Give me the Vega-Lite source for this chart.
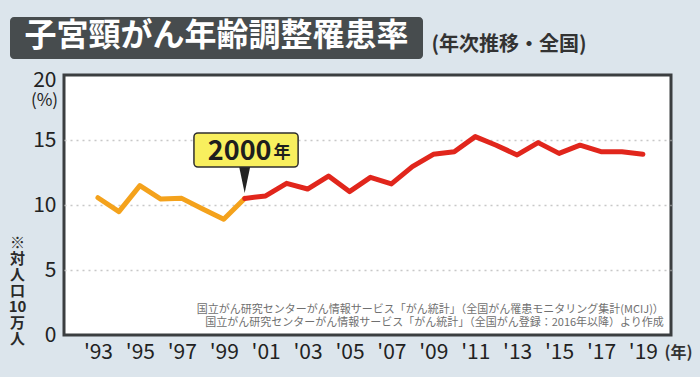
{
  "$schema": "https://vega.github.io/schema/vega-lite/v6.json",
  "background": "#dce5ec",
  "padding": {"left": 5, "top": 17, "right": 14, "bottom": 18},
  "spacing": 8,
  "config": {"font": "Noto Sans CJK JP"},
  "vconcat": [
    {
      "spacing": 4,
      "hconcat": [
        {
          "width": 1,
          "height": 1,
          "view": {"stroke": null},
          "data": {"values": []},
          "mark": "point"
        },
        {
          "width": 413,
          "height": 42,
          "view": {"fill": "#474c4e", "stroke": null, "cornerRadius": 4},
          "data": {"values": [{"t": "子宮頸がん年齢調整罹患率"}]},
          "mark": {"type": "text", "color": "white", "fontSize": 32, "fontWeight": "bold", "dy": -2},
          "encoding": {"text": {"field": "t"}}
        },
        {
          "width": 164,
          "height": 42,
          "view": {"stroke": null},
          "data": {"values": [{"t": "(年次推移・全国)"}]},
          "mark": {"type": "text", "color": "#333333", "fontSize": 20, "fontWeight": "bold", "dy": 7},
          "encoding": {"text": {"field": "t"}}
        }
      ]
    },
    {
      "spacing": 0,
      "hconcat": [
        {
          "width": 1,
          "height": 1,
          "view": {"stroke": null},
          "data": {"values": []},
          "mark": "point"
        },
        {
          "width": 607,
          "height": 260,
          "view": {"fill": "white", "stroke": "#3b3e40", "strokeWidth": 3},
          "resolve": {"axis": {"y": "independent"}},
          "layer": [
            {
              "data": {"values": [
                {"year": 1993, "v": 10.56, "seg": "a"},
                {"year": 1994, "v": 9.49, "seg": "a"},
                {"year": 1995, "v": 11.49, "seg": "a"},
                {"year": 1996, "v": 10.46, "seg": "a"},
                {"year": 1997, "v": 10.51, "seg": "a"},
                {"year": 1998, "v": 9.7, "seg": "a"},
                {"year": 1999, "v": 8.9, "seg": "a"},
                {"year": 2000, "v": 10.5, "seg": "a"},
                {"year": 2000, "v": 10.5, "seg": "b"},
                {"year": 2001, "v": 10.7, "seg": "b"},
                {"year": 2002, "v": 11.67, "seg": "b"},
                {"year": 2003, "v": 11.23, "seg": "b"},
                {"year": 2004, "v": 12.23, "seg": "b"},
                {"year": 2005, "v": 11.03, "seg": "b"},
                {"year": 2006, "v": 12.13, "seg": "b"},
                {"year": 2007, "v": 11.62, "seg": "b"},
                {"year": 2008, "v": 12.95, "seg": "b"},
                {"year": 2009, "v": 13.9, "seg": "b"},
                {"year": 2010, "v": 14.1, "seg": "b"},
                {"year": 2011, "v": 15.26, "seg": "b"},
                {"year": 2012, "v": 14.6, "seg": "b"},
                {"year": 2013, "v": 13.85, "seg": "b"},
                {"year": 2014, "v": 14.8, "seg": "b"},
                {"year": 2015, "v": 13.97, "seg": "b"},
                {"year": 2016, "v": 14.6, "seg": "b"},
                {"year": 2017, "v": 14.1, "seg": "b"},
                {"year": 2018, "v": 14.1, "seg": "b"},
                {"year": 2019, "v": 13.9, "seg": "b"}
              ]},
              "mark": {"type": "line", "strokeWidth": 5, "strokeCap": "round", "strokeJoin": "round"},
              "encoding": {
                "x": {
                  "field": "year", "type": "quantitative",
                  "scale": {"domain": [1991.38, 2020.34], "nice": false, "zero": false},
                  "axis": {
                    "values": [1993, 1995, 1997, 1999, 2001, 2003, 2005, 2007, 2009, 2011, 2013, 2015, 2017, 2019],
                    "labelExpr": "\"'\" + slice(toString(datum.value), 2)",
                    "title": "(年)",
                    "ticks": false, "domain": false, "grid": false,
                    "labelFontSize": 21, "labelColor": "#222222", "labelPadding": 6, "labelFlush": false,
                    "titleX": 614, "titleY": 17, "titleAngle": 0, "titleAlign": "center", "titleBaseline": "middle",
                    "titleFontSize": 16, "titleFontWeight": "bold", "titleColor": "#333333"
                  }
                },
                "y": {
                  "field": "v", "type": "quantitative",
                  "scale": {"domain": [0, 20], "nice": false, "zero": true},
                  "axis": {
                    "orient": "left",
                    "values": [0, 5, 10, 15, 20],
                    "title": "(%)",
                    "titleX": -20, "titleY": 25, "titleAngle": 0, "titleAlign": "center", "titleBaseline": "middle",
                    "titleFontSize": 17, "titleFontWeight": "normal", "titleColor": "#222222",
                    "labelFontSize": 21, "labelPadding": 8, "labelColor": "#222222",
                    "labelOffset": {"condition": {"test": "datum.value === 20", "value": 5}, "value": 0},
                    "ticks": false, "domain": false,
                    "grid": true, "gridDash": [2, 4], "gridWidth": 1.5,
                    "gridColor": {"condition": {"test": "datum.value === 0 || datum.value === 20", "value": "rgba(0,0,0,0)"}, "value": "#c8c8c8"}
                  }
                },
                "color": {"field": "seg", "type": "nominal", "scale": {"domain": ["a", "b"], "range": ["#f4a21c", "#e1261c"]}, "legend": null}
              }
            },
            {
              "data": {"values": [{"label": "2000"}]},
              "mark": {"type": "point", "shape": "M-0.42,-1L0.42,-1L0,1Z", "size": 676, "filled": true, "fill": "#222222", "opacity": 1, "strokeWidth": 0},
              "encoding": {"x": {"datum": 2000}, "y": {"datum": 11.92, "axis": null}}
            },
            {
              "data": {"values": [{"label": "2000"}]},
              "mark": {"type": "rect", "fill": "#f8ef5e", "stroke": "#2f2f2f", "strokeWidth": 1.5, "cornerRadius": 4},
              "encoding": {"x": {"datum": 1997.58}, "x2": {"datum": 2002.55}, "y": {"datum": 15.54, "axis": null}, "y2": {"datum": 12.92}}
            },
            {
              "data": {"values": [{"t": "2000"}]},
              "mark": {"type": "text", "align": "right", "baseline": "middle", "fontSize": 27, "fontWeight": "bold", "color": "#1e1e1e"},
              "encoding": {"text": {"field": "t"}, "x": {"datum": 2001.28}, "y": {"datum": 14.08, "axis": null}}
            },
            {
              "data": {"values": [{"t": "年"}]},
              "mark": {"type": "text", "align": "left", "baseline": "middle", "fontSize": 17, "fontWeight": "bold", "color": "#1e1e1e", "dx": 2},
              "encoding": {"text": {"field": "t"}, "x": {"datum": 2001.28}, "y": {"datum": 14.0, "axis": null}}
            },
            {
              "data": {"values": [{"src": ["国立がん研究センターがん情報サービス「がん統計」（全国がん罹患モニタリング集計(MCIJ)）", "国立がん研究センターがん情報サービス「がん統計」（全国がん登録：2016年以降）より作成"]}]},
              "mark": {"type": "text", "align": "right", "baseline": "middle", "fontSize": 11, "color": "#707070", "lineHeight": 13},
              "encoding": {
                "text": {"field": "src"},
                "x": {"datum": 2020.0},
                "y": {
                  "datum": 1.92,
                  "axis": {
                    "orient": "left",
                    "title": ["※", "対", "人", "口", "10", "万", "人"],
                    "labels": false, "ticks": false, "domain": false, "grid": false,
                    "titleX": -47, "titleY": 167, "titleAngle": 0, "titleAlign": "center", "titleBaseline": "middle",
                    "titleLineHeight": 16, "titleFontSize": 15, "titleFontWeight": "bold", "titleColor": "#2a2a2a"
                  }
                }
              }
            }
          ]
        }
      ]
    }
  ]
}
